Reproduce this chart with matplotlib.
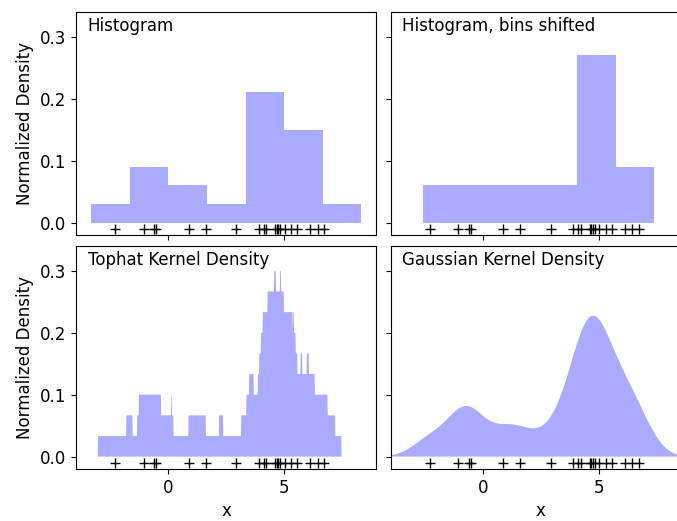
import numpy as np
import matplotlib
matplotlib.use('Agg')
import matplotlib.pyplot as plt

matplotlib.rcParams.update({'font.size': 12})

# sample points (read from the + markers)
x_data = np.array([1.62, -0.61, -0.53, -1.07, 0.87, -2.30,
                   6.74, 4.24, 5.32, 4.75, 6.46, 2.94, 4.68,
                   4.62, 6.13, 3.90, 4.83, 4.12, 5.04, 5.58])
bins = np.linspace(-5, 10, 10)
bin_shift = 0.75
bandwidth = 0.75
x_grid = np.linspace(-5, 10, 1000)
titles = ["Histogram", "Histogram, bins shifted",
          "Tophat Kernel Density", "Gaussian Kernel Density"]
x_ticks = [0, 5]
y_ticks = [0.0, 0.1, 0.2, 0.3]

# kernel densities
diff = x_grid[:, None] - x_data[None, :]
dens_tophat = (np.abs(diff) < bandwidth).mean(axis=1) / (2 * bandwidth)
dens_gauss = np.exp(-0.5 * (diff / bandwidth) ** 2).mean(axis=1) / (bandwidth * np.sqrt(2 * np.pi))

fig, ax = plt.subplots(2, 2, sharex=True, sharey=True, figsize=(6.77, 5.21), dpi=100)
fig.subplots_adjust(left=0.1123, right=1.0207, top=0.977, bottom=0.0998,
                    hspace=0.05, wspace=0.047)

ax[0, 0].hist(x_data, bins=bins, fc="#AAAAFF", density=True)
ax[0, 1].hist(x_data, bins=bins + bin_shift, fc="#AAAAFF", density=True)
ax[1, 0].fill(x_grid, dens_tophat, fc="#AAAAFF")
ax[1, 1].fill(x_grid, dens_gauss, fc="#AAAAFF")

for axi, t in zip(ax.ravel(), titles):
    axi.text(-3.5, 0.31, t)
    axi.plot(x_data, np.full(x_data.shape[0], -0.01), "+k", markersize=7)
    axi.set_xlim(-4, 9)
    axi.set_ylim(-0.02, 0.34)
    axi.set_xticks(x_ticks)
    axi.set_yticks(y_ticks)
    axi.set_yticklabels(['%.1f' % v for v in y_ticks])

for axi in ax[:, 0]:
    axi.set_ylabel("Normalized Density")
for axi in ax[1, :]:
    axi.set_xlabel("x")

plt.savefig("out.png", dpi=100)
